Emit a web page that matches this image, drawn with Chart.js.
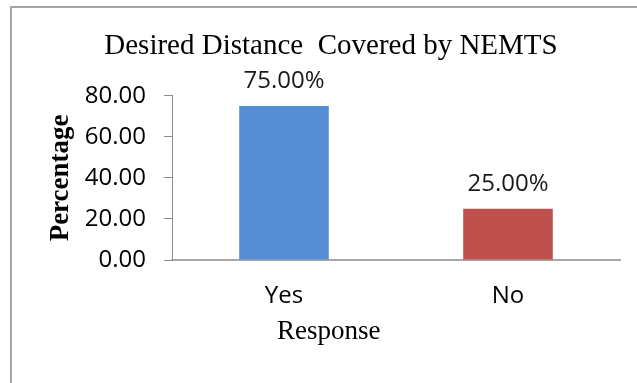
<!DOCTYPE html>
<html>
<head>
<meta charset="utf-8">
<script src="https://cdn.jsdelivr.net/npm/chart.js@4.4.1/dist/chart.umd.min.js"></script>
<style>
  html, body { margin: 0; padding: 0; background: #fff; overflow: hidden; }
  #wrap { position: relative; width: 637px; height: 383px; }
  #frame {
    position: absolute; left: 10px; top: 6px; width: 700px; height: 500px;
    border: 2px solid #a6a6a6; box-sizing: border-box;
  }
  canvas { position: absolute; left: 0; top: 0; }
</style>
</head>
<body>
<div id="wrap">
  <div id="frame"></div>
  <canvas id="chart" width="637" height="383"></canvas>
</div>
<script>
const categories = ['Yes', 'No'];
const percentages = [75.0, 25.0];
const barColors = ['#558ED5', '#C0504D'];
const yTicks = [0, 20, 40, 60, 80];

const SANS = '"Open Sans", "Liberation Sans", sans-serif';
const SERIF = '"Liberation Serif", "Times New Roman", serif';

// value labels above each bar
const barLabels = {
  id: 'barLabels',
  afterDatasetsDraw(chart) {
    const ctx = chart.ctx;
    const meta = chart.getDatasetMeta(0);
    ctx.save();
    ctx.font = '24px ' + SANS;
    ctx.fillStyle = '#1a1a1a';
    ctx.textAlign = 'center';
    ctx.textBaseline = 'alphabetic';
    meta.data.forEach((bar, i) => {
      const v = chart.data.datasets[0].data[i];
      ctx.fillText(v.toFixed(2) + '%', bar.x, bar.y - 18);
    });
    ctx.restore();
  }
};

// x axis title sits left of centre, as in the original
const xTitle = {
  id: 'xTitle',
  afterDraw(chart) {
    const { ctx, chartArea } = chart;
    ctx.save();
    ctx.font = '27px ' + SERIF;
    ctx.fillStyle = '#000';
    ctx.textAlign = 'center';
    ctx.textBaseline = 'alphabetic';
    const x = chartArea.left + (chartArea.right - chartArea.left) * 0.35;
    ctx.fillText('Response', x, chartArea.bottom + 79);
    ctx.restore();
  }
};

new Chart(document.getElementById('chart'), {
  type: 'bar',
  data: {
    labels: categories,
    datasets: [{
      data: percentages,
      backgroundColor: barColors,
      borderWidth: 0,
      categoryPercentage: 1,
      barPercentage: 0.4,
    }],
  },
  options: {
    responsive: false,
    animation: false,
    layout: { padding: { left: 42, right: 17, top: 0, bottom: 0 } },
    plugins: {
      legend: { display: false },
      tooltip: { enabled: false },
      title: {
        display: true,
        text: 'Desired Distance  Covered by NEMTS',
        color: '#000',
        font: { family: SERIF, size: 29, weight: 'normal' },
        padding: { top: 29, bottom: 32 },
      },
    },
    scales: {
      x: {
        grid: { display: false },
        border: { display: true, color: '#a6a6a6', width: 2 },
        ticks: {
          color: '#000',
          font: { family: SANS, size: 24 },
          padding: 14,
        },
        afterFit(scale) { scale.height = 123; },
      },
      y: {
        min: 0,
        max: 80,
        afterBuildTicks(scale) { scale.ticks = yTicks.map(v => ({ value: v })); },
        grid: { drawOnChartArea: false, color: '#8c8c8c', tickLength: 8 },
        border: { display: true, color: '#8c8c8c', width: 1 },
        ticks: {
          color: '#000',
          font: { family: SANS, size: 24 },
          padding: 18,
          callback: (v) => Number(v).toFixed(2),
        },
        title: {
          display: true,
          text: 'Percentage',
          color: '#000',
          font: { family: SERIF, size: 27, weight: 'bold' },
          padding: { top: 3, bottom: 0 },
        },
        afterFit(scale) { scale.width = 130; },
      },
    },
  },
  plugins: [barLabels, xTitle],
});
</script>
</body>
</html>
